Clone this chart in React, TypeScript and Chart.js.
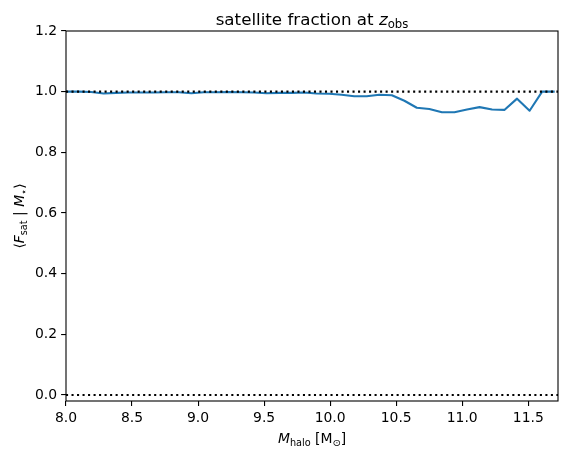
import React, { useEffect, useRef } from "react";
import { Chart, registerables } from "chart.js";

Chart.register(...registerables);

// halo mass bin centres (log10 M_halo)
const massBins = [
  8.0, 8.095, 8.19, 8.285, 8.379, 8.474, 8.569, 8.664, 8.759, 8.854,
  8.949, 9.044, 9.138, 9.233, 9.328, 9.423, 9.518, 9.613, 9.708, 9.803,
  9.897, 9.992, 10.087, 10.182, 10.277, 10.372, 10.467, 10.562, 10.656, 10.751,
  10.846, 10.941, 11.036, 11.131, 11.226, 11.321, 11.415, 11.51, 11.605, 11.7,
];

// mean satellite fraction per bin
const satFraction = [
  1.0, 1.0, 0.999, 0.994, 0.996, 0.997, 0.997, 0.997, 0.998, 0.998,
  0.995, 0.998, 0.998, 0.999, 0.998, 0.997, 0.995, 0.996, 0.996, 0.997,
  0.994, 0.993, 0.99, 0.985, 0.985, 0.99, 0.988, 0.97, 0.947, 0.943,
  0.932, 0.932, 0.941, 0.949, 0.941, 0.94, 0.977, 0.937, 1.0, 1.0,
];

// reference horizontal levels
const refLevels = [1.0, 0.0];

const xTicks = [8.0, 8.5, 9.0, 9.5, 10.0, 10.5, 11.0, 11.5];
const yTicks = [0.0, 0.2, 0.4, 0.6, 0.8, 1.0, 1.2];

const X_MIN = 8.0;
const X_MAX = 11.725;
const Y_MIN = -0.02;
const Y_MAX = 1.2;

const FONT = "'DejaVu Sans', sans-serif";

type Seg = { t: string; it?: boolean; sub?: boolean };

function segFont(s: Seg, size: number) {
  const sz = s.sub ? size * 0.7 : size;
  return `${s.it ? "oblique " : ""}${sz}px ${FONT}`;
}

function drawRich(ctx: CanvasRenderingContext2D, segs: Seg[], size: number, cx: number, baseY: number) {
  let total = 0;
  const widths: number[] = [];
  for (const s of segs) {
    ctx.font = segFont(s, size);
    const w = ctx.measureText(s.t).width;
    widths.push(w);
    total += w;
  }
  let x = cx - total / 2;
  ctx.textAlign = "left";
  ctx.textBaseline = "alphabetic";
  segs.forEach((s, i) => {
    ctx.font = segFont(s, size);
    ctx.fillText(s.t, x, baseY + (s.sub ? size * 0.22 : 0));
    x += widths[i];
  });
}

const titleSegs: Seg[] = [
  { t: "satellite fraction at " },
  { t: "z", it: true },
  { t: "obs", sub: true },
];
const xLabelSegs: Seg[] = [
  { t: "M", it: true },
  { t: "halo", sub: true },
  { t: " [M" },
  { t: "⊙", sub: true },
  { t: "]" },
];
const yLabelSegs: Seg[] = [
  { t: "⟨" },
  { t: "F", it: true },
  { t: "sat", sub: true },
  { t: " | " },
  { t: "M", it: true },
  { t: "⋆", sub: true },
  { t: "⟩" },
];

const decorPlugin = {
  id: "decor",
  afterDraw(chart: any) {
    const { ctx, chartArea } = chart;
    const { left, right, top, bottom } = chartArea;
    ctx.save();
    ctx.strokeStyle = "#000";
    ctx.lineWidth = 1.1;
    ctx.strokeRect(left, top, right - left, bottom - top);
    ctx.fillStyle = "#000";
    const cx = (left + right) / 2;
    drawRich(ctx, titleSegs, 16.7, cx, 24.5);
    drawRich(ctx, xLabelSegs, 13.9, cx, 443);
    ctx.translate(24, (top + bottom) / 2);
    ctx.rotate(-Math.PI / 2);
    drawRich(ctx, yLabelSegs, 13.9, 0, 0);
    ctx.restore();
  },
};

export default function App() {
  const ref = useRef<HTMLCanvasElement | null>(null);

  useEffect(() => {
    document.body.style.margin = "0";
    if (!ref.current) return;
    const mainData = massBins.map((x, i) => ({ x, y: satFraction[i] }));
    const refSets = refLevels.map((lvl) => ({
      label: `level ${lvl}`,
      data: [
        { x: X_MIN, y: lvl },
        { x: X_MAX, y: lvl },
      ],
      borderColor: "#000",
      borderWidth: 2.08,
      borderDash: [2.08, 3.43],
      borderCapStyle: "butt",
      pointRadius: 0,
      fill: false,
      tension: 0,
      order: 0,
    }));
    const chart = new Chart(ref.current, {
      type: "line",
      data: {
        datasets: [
          {
            label: "sat",
            data: mainData,
            borderColor: "#1f77b4",
            borderWidth: 2.08,
            borderCapStyle: "butt",
            borderJoinStyle: "round",
            pointRadius: 0,
            fill: false,
            tension: 0,
            order: 1,
          },
          ...refSets,
        ] as any,
      },
      options: {
        animation: false,
        responsive: false,
        parsing: false as any,
        layout: { padding: { left: 0, top: 31, right: 13, bottom: 0 } },
        plugins: {
          legend: { display: false },
          tooltip: { enabled: false },
          title: { display: false },
        },
        scales: {
          x: {
            type: "linear",
            min: X_MIN,
            max: X_MAX,
            afterBuildTicks: (s: any) => {
              s.ticks = xTicks.map((v) => ({ value: v }));
            },
            afterFit: (s: any) => {
              s.height = 56;
            },
            border: { display: false },
            grid: {
              drawOnChartArea: false,
              drawTicks: true,
              tickLength: 4.9,
              color: "#000",
              lineWidth: 1.1,
            },
            ticks: {
              color: "#000",
              padding: 4,
              maxRotation: 0,
              autoSkip: false,
              font: { family: FONT, size: 13.9 },
              callback: (v: any) => Number(v).toFixed(1),
            },
          },
          y: {
            type: "linear",
            min: Y_MIN,
            max: Y_MAX,
            afterBuildTicks: (s: any) => {
              s.ticks = yTicks.map((v) => ({ value: v }));
            },
            afterFit: (s: any) => {
              s.width = 66;
            },
            border: { display: false },
            grid: {
              drawOnChartArea: false,
              drawTicks: true,
              tickLength: 4.9,
              color: "#000",
              lineWidth: 1.1,
            },
            ticks: {
              color: "#000",
              padding: 4,
              autoSkip: false,
              font: { family: FONT, size: 13.9 },
              callback: (v: any) => Number(v).toFixed(1),
            },
          },
        },
      },
      plugins: [decorPlugin],
    });
    return () => chart.destroy();
  }, []);

  return (
    <div style={{ width: 571, height: 457 }}>
      <canvas ref={ref} width={571} height={457} style={{ display: "block" }} />
    </div>
  );
}
